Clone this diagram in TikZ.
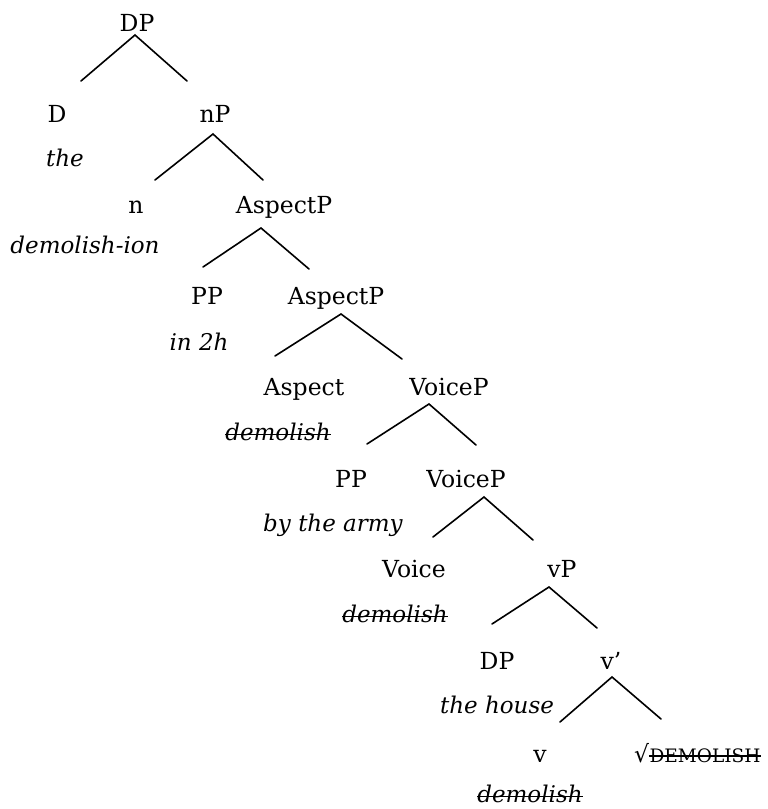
\documentclass[tikz,border=0pt]{standalone}
\usepackage{fontspec}
\setmainfont{DejaVu Serif}
\begin{document}
\begin{tikzpicture}[x=1pt, y=-1pt,
  cat/.style={anchor=base, inner sep=0pt, font=\fontsize{23.5pt}{27pt}\selectfont},
  rootcaps/.style={anchor=base west, inner sep=0pt, font=\fontsize{18.5pt}{21pt}\selectfont},
  gloss/.style={anchor=base, inner sep=0pt, font=\fontsize{23pt}{27pt}\selectfont\itshape},
  branch/.style={line width=1.6pt, line cap=round},
  strike/.style={line width=1.5pt}]
\useasboundingbox (0,0) rectangle (768,809);

% category labels
\node[cat] (dp)   at (137,31)  {DP};
\node[cat] (d)    at (57,122)  {D};
\node[cat] (np)   at (215,122) {nP};
\node[cat] (n)    at (136,213) {n};
\node[cat] (asp1) at (284,213) {AspectP};
\node[cat] (pp1)  at (207,304) {PP};
\node[cat] (asp2) at (336,304) {AspectP};
\node[cat] (asp)  at (304,395) {Aspect};
\node[cat] (vc1)  at (449,395) {VoiceP};
\node[cat] (pp2)  at (351,487) {PP};
\node[cat] (vc2)  at (466,487) {VoiceP};
\node[cat] (voice) at (414,577) {Voice};
\node[cat] (vp)   at (562,577) {vP};
\node[cat] (dp2)  at (497,669) {DP};
\node[cat] (vbar) at (611,669) {v’};
\node[cat] (v)    at (540,762) {v};
\node[cat, anchor=base west] (surd) at (634,762) {√};
\node[rootcaps] (root) at (surd.base east) {DEMOLISH};

% lexical material
\node[gloss] (g-the)   at (65,166)  {the};
\node[gloss] (g-ion)   at (85,253)  {demolish-ion};
\node[gloss] (g-2h)    at (199,350) {in 2h};
\node[gloss] (g-asp)   at (278,440) {demolish};
\node[gloss] (g-army)  at (333,531) {by the army};
\node[gloss] (g-voice) at (395,622) {demolish};
\node[gloss] (g-house) at (497,713) {the house};
\node[gloss] (g-v)     at (530,802) {demolish};

% struck-out copies
\foreach \s in {g-asp,g-voice,g-v}{
  \draw[strike] ([yshift=5.5pt]\s.base west) -- ([yshift=5.5pt]\s.base east);
}
\draw[strike] ([yshift=6pt]root.base west) -- ([yshift=6pt]root.base east);

% branch points and branch ends
\coordinate (dp-t)   at (135,35);  \coordinate (dp-l)   at (81,81);   \coordinate (dp-r)   at (187,81);
\coordinate (np-t)   at (213,134); \coordinate (np-l)   at (155,180); \coordinate (np-r)   at (263,180);
\coordinate (asp1-t) at (261,228); \coordinate (asp1-l) at (203,267); \coordinate (asp1-r) at (309,269);
\coordinate (asp2-t) at (341,314); \coordinate (asp2-l) at (275,356); \coordinate (asp2-r) at (402,359);
\coordinate (vc1-t)  at (429,404); \coordinate (vc1-l)  at (367,444); \coordinate (vc1-r)  at (476,445);
\coordinate (vc2-t)  at (484,497); \coordinate (vc2-l)  at (433,537); \coordinate (vc2-r)  at (533,540);
\coordinate (vp-t)   at (549,587); \coordinate (vp-l)   at (492,624); \coordinate (vp-r)   at (597,628);
\coordinate (vbar-t) at (612,677); \coordinate (vbar-l) at (560,722); \coordinate (vbar-r) at (661,719);

\foreach \p in {dp,np,asp1,asp2,vc1,vc2,vp,vbar}{
  \draw[branch] (\p-l) -- (\p-t) -- (\p-r);
}
\end{tikzpicture}
\end{document}
